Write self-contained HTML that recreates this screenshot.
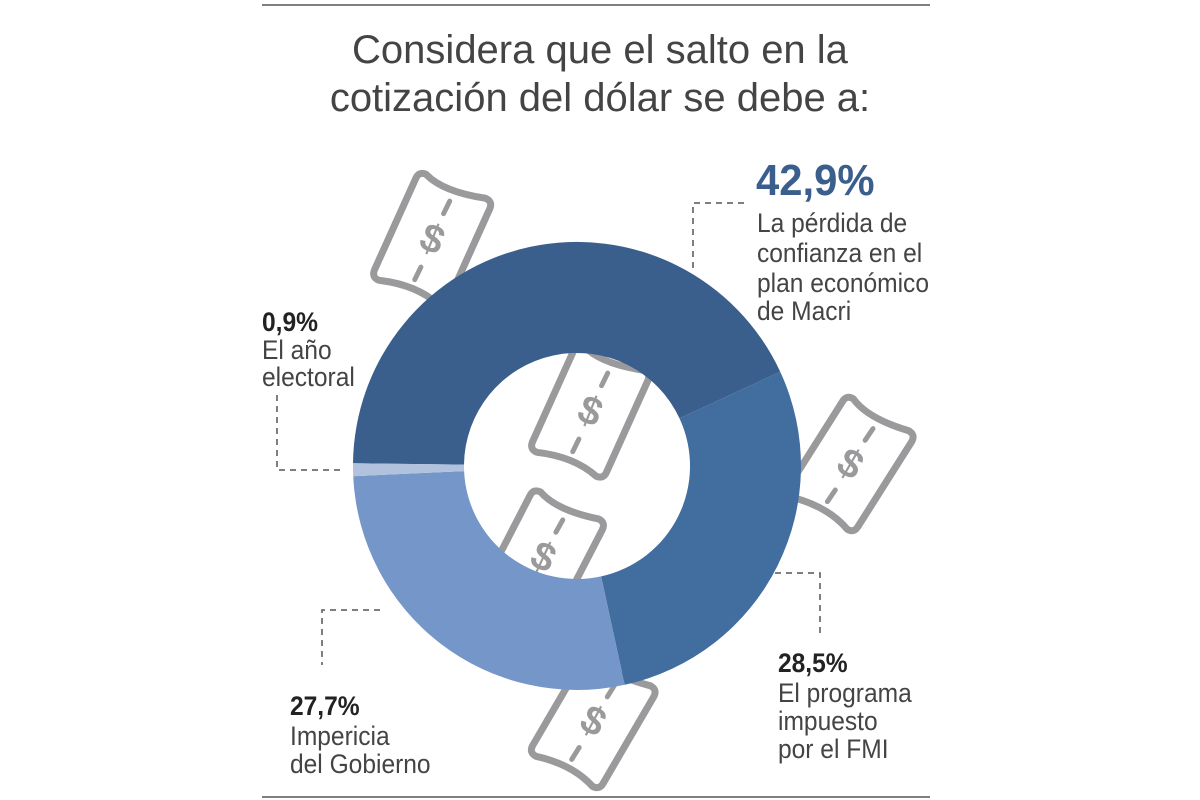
<!DOCTYPE html>
<html><head><meta charset="utf-8"><style>
html,body{margin:0;padding:0;background:#fff;}
svg{display:block;}
text{font-family:"Liberation Sans",sans-serif;}
</style></head><body>
<svg width="1200" height="800" viewBox="0 0 1200 800" xmlns="http://www.w3.org/2000/svg">
<defs>
<g id="bill">
<path d="M-32,-58 Q-10,-48 32,-58 Q40,-58 40,-50 L36,50 Q36,58 28,58 Q0,48 -36,58 Q-44,58 -44,50 L-40,-50 Q-40,-58 -32,-58 Z" fill="#fff" stroke="#9a9a9c" stroke-width="7" stroke-linejoin="round"/>
<line x1="0" y1="-42" x2="-1" y2="-28" stroke="#9a9a9c" stroke-width="5" stroke-linecap="round"/>
<line x1="-2" y1="30" x2="-3" y2="44" stroke="#9a9a9c" stroke-width="5" stroke-linecap="round"/>
<text x="-2" y="13" font-size="40" font-weight="bold" fill="#9a9a9c" text-anchor="middle">$</text>
</g>
</defs>
<line x1="262" y1="5" x2="930" y2="5" stroke="#555" stroke-width="1.5"/>
<line x1="262" y1="797" x2="930" y2="797" stroke="#555" stroke-width="1.5"/>
<text x="600" y="63" font-size="40" fill="#444" text-anchor="middle">Considera que el salto en la</text>
<text x="600" y="111" font-size="40" fill="#444" text-anchor="middle">cotización del dólar se debe a:</text>

<use href="#bill" transform="translate(434,240) rotate(22)"/>
<use href="#bill" transform="translate(592,412) rotate(22)"/>
<use href="#bill" transform="translate(545,558) rotate(25)"/>
<use href="#bill" transform="translate(595,722) rotate(28)"/>
<use href="#bill" transform="translate(852,465) rotate(30)"/>

<path d="M353.0,463.3 A224,224 0 0 1 780.2,371.7 L679.5,418.4 A113,113 0 0 0 464.0,464.6 Z" fill="#3a5f8c"/>
<path d="M780.2,371.7 A224,224 0 0 1 624.7,684.8 L601.1,576.4 A113,113 0 0 0 679.5,418.4 Z" fill="#426d9f"/>
<path d="M624.7,684.8 A224,224 0 0 1 353.2,476.2 L464.1,471.1 A113,113 0 0 0 601.1,576.4 Z" fill="#7596c8"/>
<path d="M353.2,476.2 A224,224 0 0 1 353.0,463.3 L464.0,464.6 A113,113 0 0 0 464.1,471.1 Z" fill="#b0c2de"/>

<g stroke="#555" stroke-width="1.5" stroke-dasharray="6,5" fill="none">
<polyline points="693,268 693,203 745,203"/>
<polyline points="277,395 277,470 345,470"/>
<polyline points="775,573 820,573 820,635"/>
<polyline points="380,610 322,610 322,665"/>
</g>

<text x="756" y="195" font-size="44" font-weight="bold" fill="#3a5f8c" transform="translate(756,0) scale(0.95,1) translate(-756,0)">42,9%</text>
<g font-size="27" fill="#444" transform="translate(757,0) scale(0.91,1) translate(-757,0)">
<text x="757" y="232">La pérdida de</text>
<text x="757" y="262">confianza en el</text>
<text x="757" y="292">plan económico</text>
<text x="757" y="320">de Macri</text>
</g>
<g transform="translate(262,0) scale(0.91,1) translate(-262,0)">
<text x="262" y="331" font-size="27" font-weight="bold" fill="#222">0,9%</text>
<text x="262" y="359" font-size="27" fill="#444">El año</text>
<text x="262" y="386" font-size="27" fill="#444">electoral</text>
</g>
<g transform="translate(778,0) scale(0.91,1) translate(-778,0)">
<text x="778" y="672" font-size="27" font-weight="bold" fill="#222">28,5%</text>
<text x="778" y="702" font-size="27" fill="#444">El programa</text>
<text x="778" y="730" font-size="27" fill="#444">impuesto</text>
<text x="778" y="758" font-size="27" fill="#444">por el FMI</text>
</g>
<g transform="translate(290,0) scale(0.91,1) translate(-290,0)">
<text x="290" y="715" font-size="27" font-weight="bold" fill="#222">27,7%</text>
<text x="290" y="745" font-size="27" fill="#444">Impericia</text>
<text x="290" y="773" font-size="27" fill="#444">del Gobierno</text>
</g>
</svg>
</body></html>
